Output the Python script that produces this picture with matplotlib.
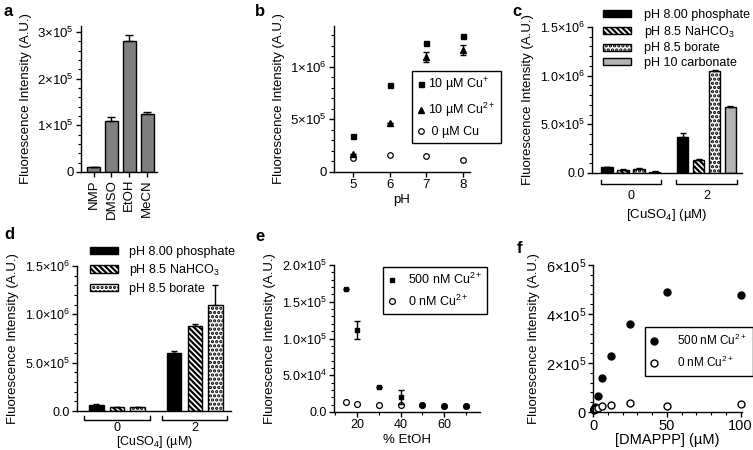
import matplotlib
matplotlib.use('Agg')
import matplotlib.pyplot as plt
from matplotlib.ticker import FuncFormatter, MultipleLocator
from matplotlib.lines import Line2D

plt.rcParams['font.family'] = ['Liberation Sans', 'DejaVu Sans']
plt.rcParams['mathtext.fontset'] = 'custom'
plt.rcParams['mathtext.rm'] = 'Liberation Sans'
plt.rcParams['mathtext.it'] = 'Liberation Sans:italic'
plt.rcParams['mathtext.bf'] = 'Liberation Sans:bold'
plt.rcParams['font.size'] = 8.5
plt.rcParams['hatch.linewidth'] = 1.6

# ---- data ----
# a: solvent screen
solvents = ['NMP', 'DMSO', 'EtOH', 'MeCN']
solvent_val = [1.0e4, 1.10e5, 2.81e5, 1.24e5]
solvent_err = [0.1e4, 0.08e5, 0.13e5, 0.04e5]

# b: pH screen
ph = [5, 6, 7, 8]
cu1_val = [3.45e5, 8.3e5, 1.22e6, 1.29e6]
cu2_val = [1.68e5, 4.68e5, 1.09e6, 1.16e6]
cu2_err = [0, 0, 0.047e6, 0.05e6]
cu0_val = [1.33e5, 1.61e5, 1.55e5, 1.14e5]

# c: buffers, 4 series
c_groups = ['0', '2']
c_labels = ['pH 8.00 phosphate', 'pH 8.5 NaHCO$_3$', 'pH 8.5 borate', 'pH 10 carbonate']
c_vals = [[0.062e6, 0.372e6], [0.034e6, 0.138e6], [0.045e6, 1.046e6], [0.014e6, 0.681e6]]
c_errs = [[0.004e6, 0.04e6], [0.003e6, 0.006e6], [0.003e6, 0.012e6], [0.002e6, 0.01e6]]

# d: buffers, 3 series
d_groups = ['0', '2']
d_labels = ['pH 8.00 phosphate', 'pH 8.5 NaHCO$_3$', 'pH 8.5 borate']
d_vals = [[0.065e6, 0.605e6], [0.041e6, 0.882e6], [0.041e6, 1.098e6]]
d_errs = [[0.004e6, 0.02e6], [0.003e6, 0.02e6], [0.004e6, 0.21e6]]

# e: % EtOH
etoh = [15, 20, 30, 40, 50, 60, 70]
e_cu500 = [1.675e5, 1.115e5, 0.34e5, 0.205e5, 0.09e5, 0.086e5, 0.077e5]
e_cu500_err = [0, 0.12e5, 0, 0.09e5, 0, 0, 0]
e_cu0 = [0.136e5, 0.114e5, 0.10e5, 0.10e5, 0.09e5, 0.086e5, 0.077e5]

# f: DMAPPP titration
dmappp = [0.39, 0.78, 1.56, 3.125, 6.25, 12.5, 25, 50, 100]
f_cu500 = [0.10e5, 0.14e5, 0.20e5, 0.65e5, 1.38e5, 2.29e5, 3.60e5, 4.91e5, 4.77e5]
f_cu0 = [0.11e5, 0.12e5, 0.14e5, 0.18e5, 0.23e5, 0.30e5, 0.38e5, 0.26e5, 0.34e5]

W, H = 753, 450
fig = plt.figure(figsize=(W / 100, H / 100), dpi=100)
YLAB = 'Fluorescence Intensity (A.U.)'


def px_axes(l, t, r, b, ls=9):
    ax = fig.add_axes([l / W, 1 - b / H, (r - l) / W, (b - t) / H])
    for s in ('top', 'right'):
        ax.spines[s].set_visible(False)
    for s in ('left', 'bottom'):
        ax.spines[s].set_linewidth(1.0)
    ax.tick_params(which='major', length=3.5, width=1.0, labelsize=ls, pad=1.5)
    ax.tick_params(which='minor', length=2, width=0.8)
    return ax


def sci(decimals):
    def f(v, pos):
        if v == 0:
            return '0' if decimals == 0 else '0.' + '0' * decimals
        e = 0
        while abs(v) >= 10 ** (e + 1):
            e += 1
        m = v / 10 ** e
        return r'$%.*f{\times}10^{%d}$' % (decimals, m, e)
    return FuncFormatter(f)


def letter(x, y, s):
    fig.text(x / W, 1 - y / H, s, fontsize=12, weight='bold', va='top', ha='left')


def brackets(ax, centers, half, drop, rise):
    tr = ax.get_xaxis_transform()
    for c in centers:
        ax.plot([c - half, c - half, c + half, c + half],
                [-drop + rise, -drop, -drop, -drop + rise],
                transform=tr, color='k', lw=1.0, clip_on=False)


def boxed_legend(ax, handles, labels, x, y, **kw):
    leg = ax.legend(handles, labels, loc='upper left', bbox_to_anchor=(x / W, 1 - y / H),
                    bbox_transform=fig.transFigure, borderaxespad=0, fancybox=False,
                    edgecolor='k', framealpha=1, **kw)
    leg.get_frame().set_linewidth(1.0)
    return leg


# ---- a ----
ax = px_axes(81, 26, 157, 172, ls=9.5)
xa = range(len(solvents))
ax.bar(xa, solvent_val, width=0.72, color='#7f7f7f', edgecolor='k', linewidth=1.0,
       yerr=[[0] * 4, solvent_err], error_kw=dict(capsize=3, elinewidth=1, capthick=1))
ax.set_xticks(list(xa))
ax.set_xticklabels(solvents, rotation=90)
ax.set_xlim(-0.7, 3.55)
ax.set_ylim(0, 3.13e5)
ax.yaxis.set_major_locator(MultipleLocator(1e5))
ax.yaxis.set_minor_locator(MultipleLocator(2e4))
ax.yaxis.set_major_formatter(sci(0))
ax.set_ylabel(YLAB, fontsize=9.5)
letter(4, 4, 'a')

# ---- b ----
ax = px_axes(334, 26, 470, 172, ls=9.5)
ax.plot(ph, cu1_val, 's', color='k', ms=3.6)
ax.errorbar(ph, cu2_val, yerr=cu2_err, fmt='^', color='k', ms=3.8, capsize=2.5, elinewidth=1)
ax.plot(ph, cu0_val, 'o', color='k', mfc='white', ms=4, mew=0.9)
ax.set_xlim(4.48, 8.19)
ax.set_ylim(0, 1.386e6)
ax.set_xticks(ph)
ax.yaxis.set_major_locator(MultipleLocator(5e5))
ax.yaxis.set_minor_locator(MultipleLocator(1e5))
ax.yaxis.set_major_formatter(sci(0))
ax.set_ylabel(YLAB, fontsize=9.5)
ax.set_xlabel('pH', fontsize=9.5, labelpad=2)
hb = [Line2D([], [], ls='', marker='s', color='k', ms=3.6),
      Line2D([], [], ls='', marker='^', color='k', ms=3.8),
      Line2D([], [], ls='', marker='o', color='k', mfc='white', ms=4, mew=0.9)]
boxed_legend(ax, hb, [r'10 µM Cu$^{+}$', r'10 µM Cu$^{2+}$', ' 0 µM Cu'], 412, 71,
             fontsize=9, handlelength=0.6, handletextpad=0.3, labelspacing=0.55,
             borderpad=0.4)
letter(255, 4, 'b')

# ---- c ----
hatches = [None, '\\\\\\\\\\\\', '....', None]
faces = ['k', 'white', 'white', '#b3b3b3']


def grouped(ax, vals, errs, labels, width, step, half, drop, rise, pad):
    n = len(vals)
    for i in range(n):
        off = (i - (n - 1) / 2) * step
        xs = [g + off for g in range(len(vals[i]))]
        ax.bar(xs, vals[i], width=width, color=faces[i], edgecolor='k', linewidth=1.0,
               hatch=hatches[i], label=labels[i],
               yerr=[[0] * len(errs[i]), errs[i]],
               error_kw=dict(capsize=2.5, elinewidth=1, capthick=1))
    ax.set_xticks([0, 1])
    ax.tick_params(axis='x', length=0, pad=pad)
    brackets(ax, [0, 1], half, drop, rise)
    ax.set_xlim(-0.515, 1.467)
    ax.set_ylim(0, 1.5e6)
    ax.yaxis.set_major_locator(MultipleLocator(5e5))
    ax.yaxis.set_minor_locator(MultipleLocator(1e5))
    ax.yaxis.set_major_formatter(sci(1))
    ax.set_ylabel(YLAB, fontsize=9.5)


ax = px_axes(592, 27, 742, 173)
grouped(ax, c_vals, c_errs, c_labels, 0.15, 0.21, 0.4, 0.075, 0.03, 12)
ax.set_xticklabels(c_groups)
ax.set_xlabel('[CuSO$_4$] (µM)', fontsize=9.5, labelpad=4)
ax.legend(loc='upper left', bbox_to_anchor=(598 / W, 1 - 4 / H),
          bbox_transform=fig.transFigure, borderaxespad=0, frameon=False, fontsize=9,
          handlelength=2.2, handleheight=0.5, handletextpad=1.1, labelspacing=0.22)
letter(512, 4, 'c')

# ---- d ----
ax = px_axes(77, 266, 231, 411)
grouped(ax, d_vals, d_errs, d_labels, 0.185, 0.266, 0.42, 0.06, 0.025, 8)
ax.set_xticklabels(d_groups)
ax.set_xlabel('[CuSO$_4$] (µM)', fontsize=9, labelpad=0)
ax.legend(loc='upper left', bbox_to_anchor=(85 / W, 1 - 241 / H),
          bbox_transform=fig.transFigure, borderaxespad=0, frameon=False, fontsize=9,
          handlelength=2.2, handleheight=0.5, handletextpad=0.9, labelspacing=0.35)
letter(4, 227, 'd')

# ---- e ----
ax = px_axes(334, 265, 480, 412)
ax.plot(etoh, e_cu0, 'o', color='k', mfc='none', ms=4.2, mew=0.9, zorder=2)
ax.errorbar(etoh, e_cu500, yerr=e_cu500_err, fmt='s', color='k', ms=3.4, capsize=2.5,
            elinewidth=1, zorder=3)
ax.set_xlim(9.4, 76.5)
ax.set_ylim(0, 2e5)
ax.xaxis.set_major_locator(MultipleLocator(20))
ax.xaxis.set_minor_locator(MultipleLocator(10))
ax.yaxis.set_major_locator(MultipleLocator(5e4))
ax.yaxis.set_minor_locator(MultipleLocator(1e4))
ax.yaxis.set_major_formatter(sci(1))
ax.set_ylabel(YLAB, fontsize=9.5)
ax.set_xlabel('% EtOH', fontsize=9.5, labelpad=2)
he = [Line2D([], [], ls='', marker='s', color='k', ms=3.4),
      Line2D([], [], ls='', marker='o', color='k', mfc='white', ms=4.2, mew=0.9)]
boxed_legend(ax, he, [r'500 nM Cu$^{2+}$', r'0 nM Cu$^{2+}$'], 383, 267,
             fontsize=9, handlelength=0.6, handletextpad=1.0, labelspacing=0.5,
             borderpad=0.4)
letter(255, 229, 'e')

# ---- f ----
ax = px_axes(593, 265, 742, 412, ls=10.5)
ax.plot(dmappp, f_cu500, 'o', color='k', ms=5, clip_on=False)
ax.plot(dmappp, f_cu0, 'o', color='k', mfc='white', ms=5, mew=1, clip_on=False)
ax.set_xlim(0, 101)
ax.set_ylim(0, 6e5)
ax.xaxis.set_major_locator(MultipleLocator(50))
ax.xaxis.set_minor_locator(MultipleLocator(10))
ax.yaxis.set_major_locator(MultipleLocator(2e5))
ax.yaxis.set_minor_locator(MultipleLocator(4e4))
ax.yaxis.set_major_formatter(sci(0))
ax.set_ylabel(YLAB, fontsize=9.5)
ax.set_xlabel('[DMAPPP] (µM)', fontsize=10.5, labelpad=0)
hf = [Line2D([], [], ls='', marker='o', color='k', ms=5),
      Line2D([], [], ls='', marker='o', color='k', mfc='white', ms=5, mew=1)]
boxed_legend(ax, hf, [r'500 nM Cu$^{2+}$', r'0 nM Cu$^{2+}$'], 645, 327,
             fontsize=8.5, handlelength=0.6, handletextpad=1.6, labelspacing=0.6,
             borderpad=0.5)
letter(517, 241, 'f')

fig.savefig('out.png', dpi=100)
